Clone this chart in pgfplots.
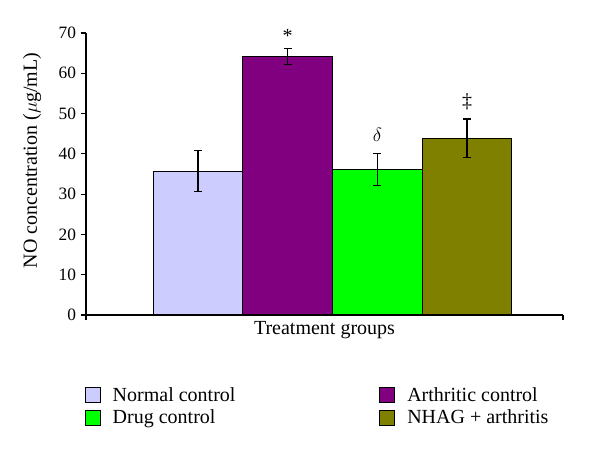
\documentclass[border=0pt]{standalone}
\usepackage{fontspec}
\setmainfont{Liberation Serif}
\usepackage{pgfplots}
\pgfplotsset{compat=1.18}
\definecolor{cnormal}{RGB}{204,204,255}
\definecolor{carth}{RGB}{128,0,128}
\definecolor{cdrug}{RGB}{0,255,0}
\definecolor{cnhag}{RGB}{128,128,0}
\begin{document}
\begin{tikzpicture}
\begin{axis}[
  scale only axis, width=357.75pt, height=211.5pt,
  clip=false,
  xmin=-1.249, xmax=4.07, ymin=0, ymax=70,
  axis x line*=bottom, axis y line*=left,
  axis line style={line width=0.8pt},
  xtick={-1.249,4.07}, xticklabels={},
  ytick={0,10,...,70},
  tick align=outside, major tick length=4pt,
  tick style={line width=0.8pt, black},
  ticklabel style={font=\fontsize{13}{15}\selectfont},
  /pgf/number format/assume math mode=true,
  ylabel={NO concentration ($\mu$g/mL)},
  ylabel style={font=\fontsize{15}{18}\selectfont, at={(axis description cs:-0.113,0.548)}, anchor=center},
  xlabel={Treatment groups},
  xlabel style={font=\fontsize{15}{18}\selectfont, at={(axis description cs:0.5,0)}, anchor=center, yshift=-11.25pt},
  ybar, bar width=1, bar shift=0pt,
  legend columns=2,
  legend style={draw=none, at={(axis description cs:0,0)}, anchor=north west, xshift=-4pt, yshift=-50pt,
    font=\fontsize{15}{18}\selectfont, row sep=1pt,
    /tikz/column 1/.style={column sep=7pt},
    /tikz/column 2/.style={column sep=106pt},
    /tikz/column 3/.style={column sep=7pt}},
  legend cell align=left,
  legend image code/.code={\draw[#1, draw=black, line width=0.6pt] (0pt,-5.6pt) rectangle (11.25pt,5.6pt);},
  error bars/y dir=both, error bars/y explicit,
  error bars/error mark options={rotate=90, mark size=3pt, line width=1pt},
  error bars/error bar style={line width=1pt, black},
]
\addplot[fill=cnormal, draw=black, line width=0.8pt] coordinates {(0,35.7) +- (0,5.1)};
\addlegendentry{Normal control}
\addplot[fill=carth, draw=black, line width=0.8pt] coordinates {(1,64.1) +- (0,2.0)};
\addlegendentry{Arthritic control}
\addplot[fill=cdrug, draw=black, line width=0.8pt] coordinates {(2,36.1) +- (0,4.0)};
\addlegendentry{Drug control}
\addplot[fill=cnhag, draw=black, line width=0.8pt] coordinates {(3,43.9) +- (0,4.75)};
\addlegendentry{NHAG + arthritis}
\node[font=\fontsize{15}{18}\selectfont] at (axis cs:1,69.3) {*};
\node[font=\fontsize{15}{18}\selectfont] at (axis cs:2,44.7) {$\delta$};
\node[font=\fontsize{15}{18}\selectfont] at (axis cs:3,52.9) {‡};
\end{axis}
\pgfresetboundingbox
\path[use as bounding box] (-64.5pt,-103.5pt) rectangle (385.5pt,236.25pt);
\end{tikzpicture}
\end{document}
